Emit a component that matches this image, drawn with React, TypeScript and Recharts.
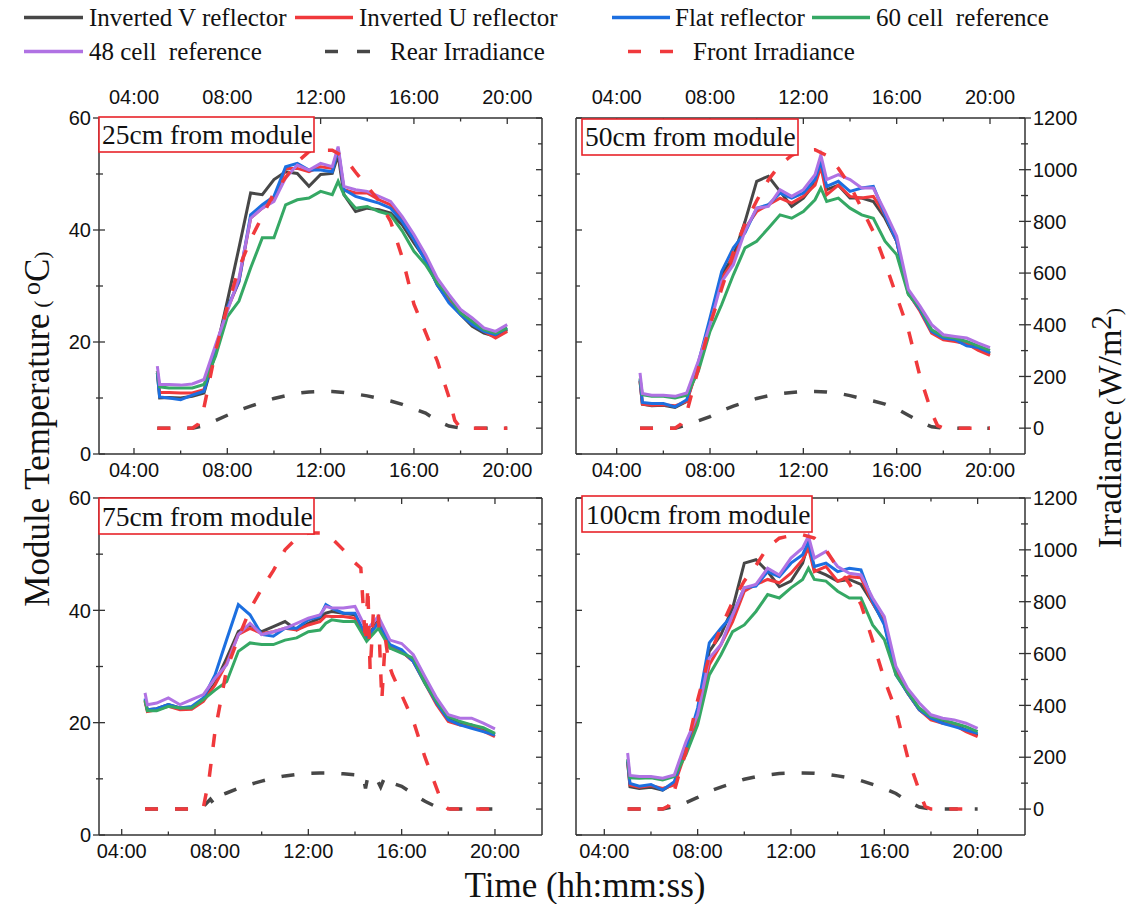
import { LineChart, Line, XAxis, YAxis } from "recharts";

// time of day in hours, shared by the temperature traces
const hours = [5, 5.1, 5.5, 6, 6.5, 7, 7.5, 8, 8.5, 9, 9.5, 10, 10.5, 11, 11.5, 12, 12.5, 12.75, 13, 13.5, 14, 14.5, 15, 15.5, 16, 16.5, 17, 17.5, 18, 18.5, 19, 19.5, 20];

// 25 cm from module
const tlInvV = [14.5, 10.0, 10.1, 10.0, 10.3, 10.9, 18.1, 27.3, 36.8, 46.6, 46.3, 49.0, 50.4, 50.1, 47.8, 49.9, 50.1, 53.4, 46.3, 43.3, 43.9, 43.6, 43.0, 40.9, 37.7, 34.7, 30.2, 27.3, 24.9, 22.8, 21.6, 21.0, 22.2];
const tlInvU = [14.8, 11.0, 11.0, 10.9, 10.9, 11.5, 19.0, 25.8, 30.8, 42.1, 43.9, 45.4, 51.0, 51.0, 50.4, 51.3, 51.0, 54.2, 47.2, 46.6, 46.6, 45.4, 44.5, 41.8, 38.3, 34.7, 30.5, 27.3, 25.2, 23.4, 21.9, 20.7, 21.9];
const tlFlat = [14.5, 10.2, 10.0, 9.7, 10.5, 11.2, 18.5, 26.1, 30.8, 42.7, 44.5, 46.0, 51.3, 51.9, 50.7, 50.7, 50.4, 54.6, 47.2, 46.0, 45.4, 44.8, 43.9, 41.5, 38.3, 34.4, 30.2, 27.0, 24.9, 23.1, 21.9, 21.3, 22.5];
const tl60 = [14.8, 12.0, 11.8, 11.8, 11.8, 12.4, 17.5, 24.5, 27.3, 33.2, 38.6, 38.6, 44.5, 45.4, 45.7, 46.9, 46.3, 48.7, 46.3, 43.9, 44.2, 43.3, 42.7, 39.8, 36.2, 33.8, 30.5, 28.2, 25.2, 23.7, 22.2, 21.6, 22.5];
const tl48 = [15.7, 12.4, 12.4, 12.3, 12.5, 13.3, 19.5, 25.5, 31.4, 42.1, 43.9, 45.1, 49.3, 51.6, 50.7, 51.9, 51.3, 54.9, 47.8, 47.2, 46.9, 46.0, 45.1, 42.4, 39.2, 35.6, 31.4, 28.5, 25.8, 24.3, 22.5, 21.9, 23.1];
const tlFrontHours = [5, 6.5, 6.75, 7, 7.5, 8, 8.5, 9, 9.5, 10, 10.5, 11, 11.5, 12, 12.5, 13, 13.5, 14, 14.5, 15, 15.5, 16, 16.5, 17, 17.5, 17.75, 18, 20];
const tlFront = [0, 0, 15, 80, 300, 470, 620, 730, 820, 910, 970, 1030, 1070, 1075, 1075, 1050, 990, 935, 880, 800, 660, 480, 370, 260, 120, 30, 0, 0];
const tlRearHours = [5, 6.5, 7, 7.5, 8, 8.5, 9, 9.5, 10, 10.5, 11, 11.5, 12, 12.5, 13, 13.5, 14, 14.5, 15, 15.5, 16, 16.5, 17, 17.5, 18, 20];
const tlRear = [0, 0, 10, 30, 50, 70, 85, 100, 115, 125, 135, 140, 142, 142, 138, 132, 125, 115, 105, 92, 75, 58, 28, 8, 0, 0];

// 50 cm from module
const trInvV = [13.0, 8.9, 8.6, 8.7, 8.3, 9.4, 16.0, 23.7, 32.0, 35.3, 41.5, 48.7, 49.6, 46.9, 44.2, 45.7, 48.4, 52.0, 47.2, 48.0, 45.7, 45.7, 45.1, 42.1, 38.0, 28.7, 25.8, 21.9, 20.7, 20.3, 19.6, 19.0, 17.9];
const trInvU = [13.0, 8.9, 8.7, 8.8, 8.6, 9.4, 15.7, 23.7, 31.4, 34.4, 40.3, 43.3, 44.5, 45.7, 44.8, 46.0, 48.0, 51.3, 46.3, 48.0, 46.0, 45.7, 46.0, 42.7, 38.0, 28.7, 25.5, 21.6, 20.4, 20.1, 19.7, 18.5, 17.6];
const trFlat = [13.3, 9.2, 9.0, 9.0, 8.4, 9.7, 16.3, 24.3, 32.6, 36.8, 39.5, 43.9, 44.5, 46.6, 45.7, 46.6, 49.0, 52.2, 47.8, 48.7, 46.9, 47.5, 47.8, 42.7, 38.0, 28.7, 25.8, 21.9, 20.7, 20.4, 19.3, 19.0, 18.1];
const tr60 = [13.5, 10.6, 10.3, 10.3, 10.0, 10.5, 14.8, 21.9, 26.7, 32.0, 36.8, 38.0, 40.3, 42.7, 42.1, 43.3, 45.4, 47.5, 45.1, 45.7, 43.9, 42.7, 42.1, 38.0, 35.6, 28.5, 26.1, 22.2, 21.0, 20.7, 20.1, 19.3, 18.5];
const tr48 = [14.5, 10.8, 10.5, 10.5, 10.3, 10.9, 16.6, 23.1, 30.8, 33.8, 39.8, 43.9, 44.2, 47.2, 46.0, 47.2, 49.9, 53.4, 49.0, 49.9, 49.0, 47.5, 47.5, 43.3, 38.9, 29.4, 26.4, 23.1, 21.3, 21.0, 20.7, 19.8, 19.0];
const trFrontHours = [5, 6.5, 6.75, 7, 7.5, 8, 8.5, 9, 9.5, 10, 10.5, 11, 11.5, 12, 12.5, 13, 13.5, 14, 14.5, 15, 15.5, 16, 16.5, 17, 17.5, 17.75, 18, 20];
const trFront = [0, 0, 15, 60, 230, 400, 540, 680, 790, 880, 960, 1020, 1055, 1075, 1077, 1055, 1005, 940, 850, 760, 640, 510, 380, 200, 60, 10, 0, 0];
const trRearHours = [5, 6.5, 7, 7.5, 8, 8.5, 9, 9.5, 10, 10.5, 11, 11.5, 12, 12.5, 13, 13.5, 14, 14.5, 15, 15.5, 16, 16.5, 17, 17.5, 18, 20];
const trRear = [0, 0, 12, 28, 45, 68, 85, 100, 115, 125, 133, 138, 142, 142, 140, 135, 126, 115, 105, 93, 75, 50, 25, 5, 0, 0];

// 75 cm from module
const blInvV = [24.0, 22.3, 22.5, 23.2, 22.6, 22.6, 24.1, 27.0, 31.5, 36.2, 37.4, 36.2, 37.1, 38.0, 36.5, 37.7, 38.6, 39.5, 39.8, 39.5, 39.2, 35.0, 38.3, 33.3, 32.7, 30.9, 27.3, 23.5, 20.8, 19.9, 19.6, 18.7, 17.9];
const blInvU = [23.8, 22.0, 22.3, 22.9, 22.3, 22.4, 23.8, 26.7, 30.6, 35.7, 36.8, 35.9, 36.2, 36.8, 36.5, 37.4, 38.0, 39.0, 38.9, 38.9, 38.6, 34.8, 38.0, 33.6, 32.7, 30.9, 27.0, 23.2, 20.2, 19.6, 19.3, 18.5, 17.5];
const blFlat = [24.3, 22.3, 22.5, 23.2, 22.6, 22.9, 24.4, 28.5, 34.8, 41.0, 39.2, 35.7, 35.4, 36.8, 36.8, 38.3, 38.9, 41.0, 40.4, 39.5, 39.5, 35.2, 37.7, 33.9, 33.0, 30.9, 27.0, 23.5, 20.5, 19.6, 19.0, 18.4, 17.8];
const bl60 = [24.0, 22.1, 22.1, 22.9, 22.6, 22.6, 24.1, 25.8, 27.3, 32.7, 34.2, 33.9, 33.9, 34.7, 35.1, 36.2, 36.5, 37.7, 38.3, 38.0, 38.0, 34.5, 36.8, 33.3, 32.4, 31.5, 27.0, 23.8, 21.1, 20.2, 19.6, 19.1, 18.1];
const bl48 = [25.3, 23.2, 23.5, 24.4, 23.2, 24.1, 25.0, 27.9, 30.3, 35.7, 37.7, 35.7, 36.2, 36.8, 37.7, 38.6, 39.2, 40.7, 40.4, 40.4, 40.7, 36.5, 38.9, 34.7, 34.1, 32.1, 28.2, 24.4, 21.4, 20.8, 20.8, 19.9, 18.9];
const blFrontHours = [5, 7, 7.5, 7.75, 8, 8.25, 8.5, 9, 9.5, 10, 10.5, 11, 11.5, 12, 12.5, 13, 13.5, 14, 14.25, 14.45, 14.55, 14.65, 14.8, 15, 15.15, 15.3, 15.45, 15.6, 16, 16.5, 17, 17.5, 17.75, 18, 20];
const blFront = [0, 0, 5, 120, 300, 420, 540, 660, 770, 850, 920, 1000, 1045, 1065, 1065, 1045, 1000, 950, 930, 640, 860, 530, 780, 760, 420, 660, 560, 520, 440, 340, 200, 80, 20, 0, 0];
const blRearHours = [5, 7, 7.5, 7.8, 7.95, 8.1, 8.5, 9, 9.5, 10, 10.5, 11, 11.5, 12, 12.5, 13, 13.5, 14, 14.35, 14.45, 14.55, 14.9, 15.1, 15.25, 15.4, 15.6, 16, 16.5, 17, 17.5, 17.75, 20];
const blRear = [0, 0, 10, 38, 20, 48, 62, 80, 95, 108, 120, 128, 134, 138, 139, 139, 136, 132, 128, 80, 125, 122, 85, 118, 95, 100, 88, 58, 30, 8, 0, 0];

// 100 cm from module
const brInvV = [13.0, 8.6, 8.3, 8.5, 8.0, 9.2, 15.4, 22.0, 32.7, 35.7, 40.4, 48.4, 49.0, 46.9, 44.2, 45.2, 48.4, 52.0, 47.2, 46.3, 45.2, 45.5, 44.6, 41.3, 37.7, 28.8, 25.3, 22.3, 20.8, 20.2, 19.6, 18.7, 17.8];
const brInvU = [13.0, 8.9, 8.5, 8.8, 8.3, 8.9, 14.9, 20.8, 30.3, 33.9, 38.0, 43.4, 44.6, 45.5, 44.9, 46.6, 49.0, 51.1, 46.9, 47.8, 45.2, 46.0, 45.8, 41.3, 38.0, 29.1, 25.3, 22.3, 20.5, 19.9, 19.6, 18.4, 17.5];
const brFlat = [13.3, 9.2, 8.7, 9.0, 8.0, 9.5, 15.5, 22.6, 34.2, 36.8, 39.2, 44.0, 44.3, 46.9, 46.0, 48.4, 49.9, 52.2, 47.8, 48.4, 46.9, 47.5, 47.2, 41.6, 37.4, 28.5, 25.3, 22.3, 20.8, 19.9, 19.3, 18.7, 18.1];
const br60 = [13.5, 10.2, 10.1, 10.2, 9.8, 10.4, 14.3, 19.6, 28.5, 32.1, 36.2, 37.4, 39.8, 42.8, 42.2, 44.0, 45.5, 47.5, 45.5, 45.2, 43.4, 42.2, 42.2, 37.4, 34.8, 28.5, 25.5, 22.6, 21.1, 20.5, 19.9, 19.3, 18.4];
const br48 = [14.6, 10.6, 10.4, 10.4, 10.1, 10.7, 16.6, 21.4, 31.5, 33.9, 39.2, 44.0, 44.6, 47.5, 46.3, 49.3, 51.1, 53.2, 49.3, 50.5, 47.8, 46.6, 46.3, 42.2, 38.9, 30.0, 26.1, 23.5, 21.4, 20.8, 20.5, 19.9, 19.0];
const brFrontHours = [5, 6.5, 6.75, 7, 7.25, 7.5, 8, 8.5, 9, 9.5, 10, 10.5, 11, 11.5, 12, 12.5, 13, 13.5, 14, 14.5, 15, 15.5, 16, 16.5, 17, 17.5, 17.75, 18, 20];
const brFront = [0, 0, 12, 70, 150, 220, 420, 590, 700, 800, 880, 940, 1010, 1045, 1055, 1058, 1045, 1000, 930, 870, 790, 650, 500, 380, 200, 70, 10, 0, 0];
const brRearHours = [5, 6.5, 7, 7.5, 8, 8.5, 9, 9.5, 10, 10.5, 11, 11.5, 12, 12.5, 13, 13.5, 14, 14.5, 15, 15.5, 16, 16.5, 17, 17.5, 18, 20];
const brRear = [0, 0, 10, 25, 45, 68, 85, 100, 115, 125, 132, 137, 139, 139, 138, 135, 128, 120, 110, 95, 80, 60, 30, 8, 0, 0];

const xTicks = [4, 6, 8, 10, 12, 14, 16, 18, 20];
const tempTicks = [0, 10, 20, 30, 40, 50, 60];
const irrTicks = [0, 100, 200, 300, 400, 500, 600, 700, 800, 900, 1000, 1100, 1200];

const SERIF = "'Liberation Serif', 'Times New Roman', serif";
const SANS = "'Liberation Sans', Arial, sans-serif";
const AXIS = "#333";
const INK = "#111";
const GRAY = "#474747";
const RED = "#f0393c";

const tempSeries = [
  { key: "v", name: "Inverted V reflector", color: GRAY },
  { key: "u", name: "Inverted U reflector", color: RED },
  { key: "f", name: "Flat reflector", color: "#1c6fe0" },
  { key: "c60", name: "60 cell  reference", color: "#35a864" },
  { key: "c48", name: "48 cell  reference", color: "#b072e3" },
];

function merge(parts: { key: string; t: number[]; v: number[] }[]) {
  const rows = new Map<number, any>();
  parts.forEach((p) =>
    p.t.forEach((t, i) => {
      const row = rows.get(t) ?? { t };
      row[p.key] = p.v[i];
      rows.set(t, row);
    })
  );
  return [...rows.values()].sort((a, b) => a.t - b.t);
}

const hhmm = (v: number) => `${String(v).padStart(2, "0")}:00`;

function XTick(props: any) {
  const { x, y, payload, side, show } = props;
  const v = payload.value as number;
  const major = v % 4 === 0;
  const dir = side === "bottom" ? -1 : 1;
  return (
    <g>
      <line x1={x} x2={x} y1={y} y2={y + dir * (major ? 6 : 3.5)} stroke={AXIS} strokeWidth={1.3} />
      {show && major && (
        <text x={x} y={side === "bottom" ? y + 23 : y - 14} textAnchor="middle" fontFamily={SANS} fontSize={20} fill={INK}>
          {hhmm(v)}
        </text>
      )}
    </g>
  );
}

function YTick(props: any) {
  const { x, y, payload, side, show, step } = props;
  const v = payload.value as number;
  const major = v % step === 0;
  const inward = side === "left" ? 1 : -1;
  const out = show ? (major ? 6 : 3) : 0;
  return (
    <g>
      <line x1={x - inward * out} x2={x + inward * (major ? 6 : 4)} y1={y} y2={y} stroke={AXIS} strokeWidth={1.3} />
      {show && major && (
        <text x={x - inward * 8} y={y} dy="0.36em" textAnchor={side === "left" ? "end" : "start"} fontFamily={SANS} fontSize={20} fill={INK}>
          {v}
        </text>
      )}
    </g>
  );
}

const panels = [
  {
    id: "tl", left: 99, top: 118, width: 443, height: 336, xDomain: [2.5, 21.49],
    topLabels: true, leftLabels: true, rightLabels: false,
    temp: [tlInvV, tlInvU, tlFlat, tl60, tl48],
    rear: [tlRearHours, tlRear], front: [tlFrontHours, tlFront],
  },
  {
    id: "tr", left: 576, top: 118, width: 449, height: 336, xDomain: [2.256, 21.5],
    topLabels: true, leftLabels: false, rightLabels: true,
    temp: [trInvV, trInvU, trFlat, tr60, tr48],
    rear: [trRearHours, trRear], front: [trFrontHours, trFront],
  },
  {
    id: "bl", left: 99, top: 498, width: 443, height: 337, xDomain: [3.027, 22.016],
    topLabels: false, leftLabels: true, rightLabels: false,
    temp: [blInvV, blInvU, blFlat, bl60, bl48],
    rear: [blRearHours, blRear], front: [blFrontHours, blFront],
  },
  {
    id: "br", left: 576, top: 498, width: 449, height: 337, xDomain: [2.787, 22.03],
    topLabels: false, leftLabels: false, rightLabels: true,
    temp: [brInvV, brInvU, brFlat, br60, br48],
    rear: [brRearHours, brRear], front: [brFrontHours, brFront],
  },
];

const labels = [
  { text: "25cm from module", x: 99, y: 117, w: 215, h: 35, tx: 102, ty: 144 },
  { text: "50cm from module", x: 582, y: 119, w: 216, h: 36, tx: 585, ty: 146 },
  { text: "75cm from module", x: 99, y: 498, w: 215, h: 36, tx: 102, ty: 526 },
  { text: "100cm from module", x: 582, y: 496, w: 230, h: 36, tx: 586, ty: 524 },
];

const axisLine = { stroke: AXIS, strokeWidth: 1.5 };

function Panel({ p }: { p: (typeof panels)[number] }) {
  const data = merge([
    ...tempSeries.map((s, i) => ({ key: s.key, t: hours, v: p.temp[i] })),
    { key: "rear", t: p.rear[0], v: p.rear[1] },
    { key: "front", t: p.front[0], v: p.front[1] },
  ]);
  return (
    <div style={{ position: "absolute", left: p.left - 60, top: p.top - 40 }}>
      <LineChart width={p.width + 120} height={p.height + 80} data={data} margin={{ top: 0, right: 0, bottom: 0, left: 0 }}>
        <XAxis xAxisId="b" dataKey="t" type="number" domain={p.xDomain} allowDataOverflow ticks={xTicks} interval={0}
          height={40} tickSize={0} tickMargin={0} tickLine={false} axisLine={axisLine} tick={<XTick side="bottom" show />} />
        <XAxis xAxisId="t" orientation="top" dataKey="t" type="number" domain={p.xDomain} allowDataOverflow ticks={xTicks} interval={0}
          height={40} tickSize={0} tickMargin={0} tickLine={false} axisLine={axisLine} tick={<XTick side="top" show={p.topLabels} />} />
        <YAxis yAxisId="l" type="number" domain={[0, 60]} allowDataOverflow ticks={tempTicks} interval={0}
          width={60} tickSize={0} tickMargin={0} tickLine={false} axisLine={axisLine} tick={<YTick side="left" show={p.leftLabels} step={20} />} />
        <YAxis yAxisId="r" orientation="right" type="number" domain={[-100, 1200]} allowDataOverflow ticks={irrTicks} interval={0}
          width={60} tickSize={0} tickMargin={0} tickLine={false} axisLine={axisLine} tick={<YTick side="right" show={p.rightLabels} step={200} />} />
        {tempSeries.map((s) => (
          <Line key={s.key} xAxisId="b" yAxisId="l" dataKey={s.key} stroke={s.color} strokeWidth={3}
            dot={false} connectNulls isAnimationActive={false} />
        ))}
        <Line xAxisId="b" yAxisId="r" dataKey="rear" stroke={GRAY} strokeWidth={3.5} strokeDasharray="13 17"
          dot={false} connectNulls isAnimationActive={false} />
        <Line xAxisId="b" yAxisId="r" dataKey="front" stroke={RED} strokeWidth={3.5} strokeDasharray="13 17"
          dot={false} connectNulls isAnimationActive={false} />
      </LineChart>
    </div>
  );
}

const legendRows = [
  { y: 17.5, items: [
    { name: tempSeries[0].name, color: GRAY, x1: 24, x2: 83, tx: 89, dash: false },
    { name: tempSeries[1].name, color: RED, x1: 295, x2: 353, tx: 359, dash: false },
    { name: tempSeries[2].name, color: tempSeries[2].color, x1: 612, x2: 670, tx: 675, dash: false },
    { name: tempSeries[3].name, color: tempSeries[3].color, x1: 812, x2: 870, tx: 876, dash: false },
  ] },
  { y: 51.5, items: [
    { name: tempSeries[4].name, color: tempSeries[4].color, x1: 24, x2: 83, tx: 89, dash: false },
    { name: "Rear Irradiance", color: GRAY, x1: 325, x2: 370, tx: 390, dash: true },
    { name: "Front Irradiance", color: RED, x1: 628, x2: 673, tx: 693, dash: true },
  ] },
];

export default function App() {
  return (
    <div style={{ position: "absolute", left: 0, top: 0, width: 1132, height: 904, background: "#fff", overflow: "hidden" }}>
      {panels.map((p) => (
        <Panel key={p.id} p={p} />
      ))}
      <svg width={1132} height={904} style={{ position: "absolute", left: 0, top: 0, pointerEvents: "none" }}>
        {legendRows.map((row) =>
          row.items.map((it) => (
            <g key={it.name}>
              <line x1={it.x1} x2={it.x2} y1={row.y} y2={row.y} stroke={it.color} strokeWidth={3.5}
                strokeDasharray={it.dash ? "13 19" : undefined} />
              <text x={it.tx} y={row.y + 8.5} fontFamily={SERIF} fontSize={25} fill={INK} style={{ whiteSpace: "pre" }}>
                {it.name}
              </text>
            </g>
          ))
        )}
        {labels.map((l) => (
          <g key={l.text}>
            <rect x={l.x} y={l.y} width={l.w} height={l.h} fill="#fff" stroke="#e8242a" strokeWidth={1.6} />
            <text x={l.tx} y={l.ty} fontFamily={SERIF} fontSize={27.5} fill={INK}>
              {l.text}
            </text>
          </g>
        ))}
        <text transform="translate(49, 429) rotate(-90)" textAnchor="middle" fontFamily={SERIF} fontSize={35} fill={INK}>
          Module Temperature
          <tspan fontSize={22}> ( </tspan>
          <tspan fontSize={26} dy={-9}>o</tspan>
          <tspan dy={9}>C</tspan>
          <tspan fontSize={22}>)</tspan>
        </text>
        <text transform="translate(1121, 428) rotate(-90)" textAnchor="middle" fontFamily={SERIF} fontSize={34} fill={INK}>
          Irradiance
          <tspan fontSize={22}> (</tspan>
          <tspan>W/m</tspan>
          <tspan fontSize={29} dy={-10}>2</tspan>
          <tspan fontSize={22} dy={10}>)</tspan>
        </text>
        <text x={585} y={897} textAnchor="middle" fontFamily={SERIF} fontSize={35} fill={INK}>
          Time (hh:mm:ss)
        </text>
      </svg>
    </div>
  );
}
